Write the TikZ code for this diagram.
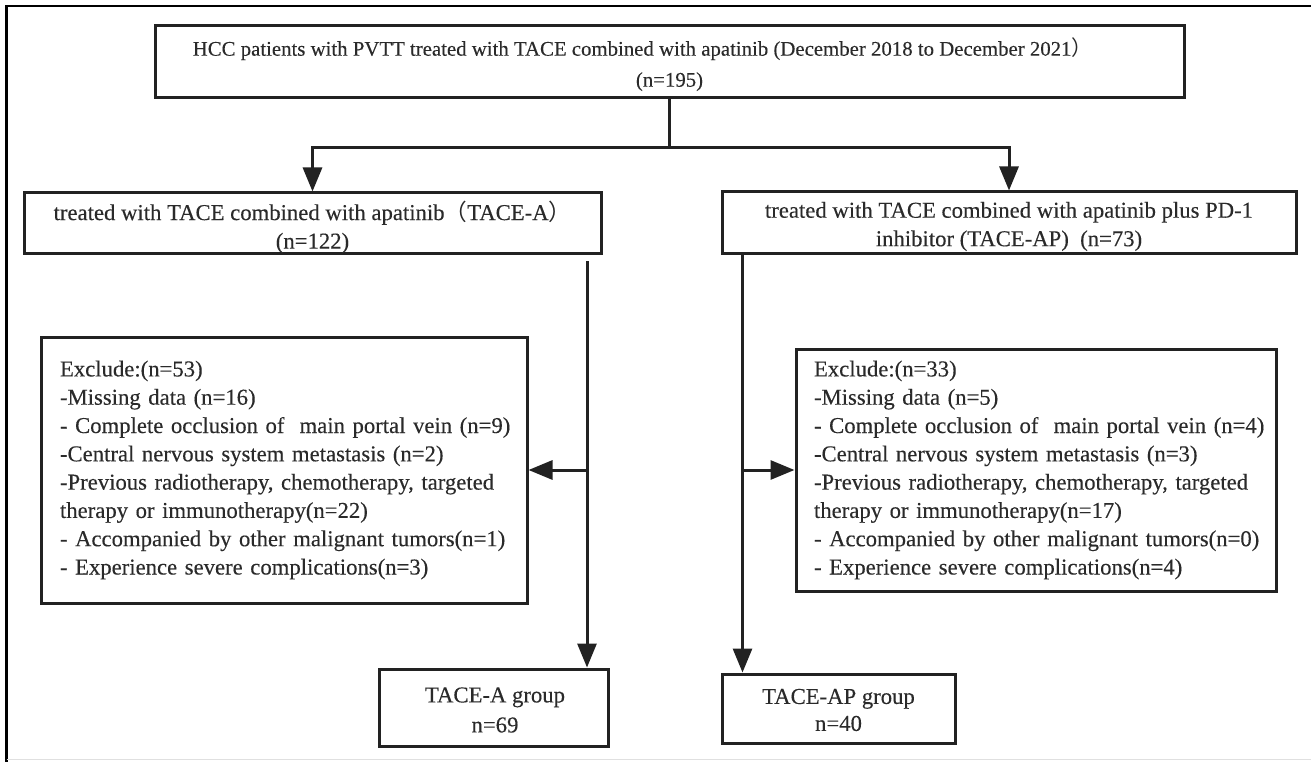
\documentclass[tikz,border=0pt]{standalone}
\usepackage{fontspec}
\setmainfont[FakeBold=0.25]{Liberation Serif}
\newfontfamily\cjk{Noto Sans CJK SC}
\usetikzlibrary{arrows.meta}
\newcommand\xl[1]{\mbox{#1}}
\definecolor{linec}{HTML}{222222}
\definecolor{textc}{HTML}{2a2a2a}
\begin{document}
\begin{tikzpicture}[x=1pt,y=-1pt,
  box/.style={draw=linec, line width=3pt, inner sep=0pt},
  conn/.style={draw=linec, line width=3pt},
  tip/.tip={Triangle[length=24pt,width=19pt]},
  arr/.style={conn, -tip},
  txt/.style={text=textc, align=center, inner sep=0pt},
  big/.style={font=\fontsize{22.7}{28.5}\selectfont},
  exbox/.style={box, text=textc, align=left, font=\fontsize{22.7}{28.3}\selectfont}]
\useasboundingbox (0,0) rectangle (1311,762);
% outer frame
\draw[black, line width=2.5pt] (6.5,762) -- (6.5,6) -- (1311,6);
\draw[black!12, line width=1pt] (6.5,759) -- (1311,759);

% top
\node[box, minimum width=1029pt, minimum height=72pt] (top) at (669.5,62) {};
\node[txt, font=\fontsize{20.8}{31}\selectfont] (toptext) at (669.5,64.5)
  {HCC patients with PVTT treated with TACE combined with apatinib (December 2018 to December 2021{\cjk ）}\hspace*{54pt}\\(n=195)};

% second level
\node[box, minimum width=577pt, minimum height=60pt] (boxA) at (312.5,223) {};
\node[txt, big] (textA) at (312.5,227) {treated with TACE combined with apatinib{\cjk （}TACE-A{\cjk ）}\\(n=122)};
\node[box, minimum width=574pt, minimum height=61pt] (boxB) at (1009,222.5) {};
\node[txt, big] (textB) at (1009,226.5) {treated with TACE combined with apatinib plus PD-1\\inhibitor (TACE-AP)\ \ (n=73)};

% exclusion boxes
\node[exbox, text width=448pt, inner xsep=19pt, minimum height=266pt] (exA) at (284,470)
  {\xl{Exclude:(n=53)}\\
   \xl{-Missing data (n=16)}\\
   \xl{- Complete occlusion of\ \ main portal vein (n=9)}\\
   \xl{-Central nervous system metastasis (n=2)}\\
   \xl{-Previous radiotherapy, chemotherapy, targeted}\\
   \xl{therapy or immunotherapy(n=22)}\\
   \xl{- Accompanied by other malignant tumors(n=1)}\\
   \xl{- Experience severe complications(n=3)}};
\node[exbox, text width=444pt, inner xsep=18pt, minimum height=242pt] (exB) at (1036,470)
  {\xl{Exclude:(n=33)}\\
   \xl{-Missing data (n=5)}\\
   \xl{- Complete occlusion of\ \ main portal vein (n=4)}\\
   \xl{-Central nervous system metastasis (n=3)}\\
   \xl{-Previous radiotherapy, chemotherapy, targeted}\\
   \xl{therapy or immunotherapy(n=17)}\\
   \xl{- Accompanied by other malignant tumors(n=0)}\\
   \xl{- Experience severe complications(n=4)}};

% group boxes
\node[box, minimum width=229pt, minimum height=77pt] (grpA) at (494,707.5) {};
\node[txt, font=\fontsize{22.7}{30}\selectfont] (grpAtext) at (495,710) {TACE-A group\\n=69};
\node[box, minimum width=233pt, minimum height=69pt] (grpB) at (838.5,708.5) {};
\node[txt, font=\fontsize{22.7}{27}\selectfont] (grpBtext) at (838.5,710) {TACE-AP group\\n=40};

% connectors
\coordinate (split) at (669.5,148);
\draw[conn] (top.south) -- (split);
\draw[conn, tip-tip] (boxA.north) |- (split) -| (boxB.north);

\coordinate (a0) at (587,261);
\draw[arr] (a0) -- (a0 |- grpA.north);
\draw[arr] (a0 |- exA.east) -- (exA.east);

\coordinate (b0) at (742.5,253);
\draw[arr] (b0) -- (b0 |- grpB.north);
\draw[arr] (b0 |- exB.west) -- (exB.west);
\end{tikzpicture}
\end{document}
